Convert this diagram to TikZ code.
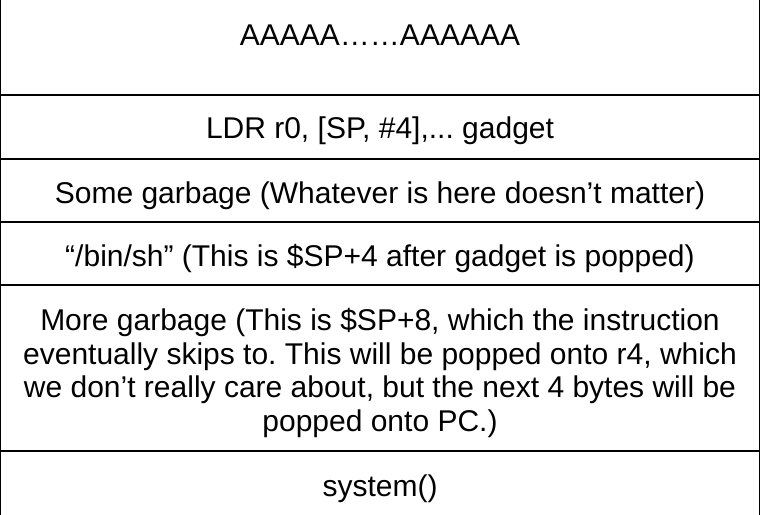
\documentclass[tikz,border=0pt]{standalone}
\usepackage{fontspec}
\setmainfont{Liberation Sans}
\frenchspacing
\begin{document}
\begin{tikzpicture}[x=1pt,y=-1pt,
  cell/.style={draw=black,line width=2pt,rectangle,minimum width=760pt,inner sep=0pt,outer sep=0pt,anchor=north west},
  txt/.style={align=center,inner sep=0pt,font=\fontsize{30}{33.5}\selectfont}]
\useasboundingbox (0,0) rectangle (760,514);
\clip (0,0) rectangle (760,514);
\node[cell,minimum height=120pt] (r1) at (0,-25) {};
\node[cell,minimum height=64pt] (r2) at (0,95) {};
\node[cell,minimum height=63pt] (r3) at (0,159) {};
\node[cell,minimum height=63pt] (r4) at (0,222) {};
\node[cell,minimum height=166pt] (r5) at (0,285) {};
\node[cell,minimum height=72pt] (r6) at (0,451) {};
\node[txt] (t1) at (r1.center) {AAAAA……AAAAAA};
\node[txt,yshift=-4pt] (t2) at (r2.center) {LDR r0, [SP, \#4],... gadget};
\node[txt,yshift=-5pt] (t3) at (r3.center) {Some garbage (Whatever is here doesn’t matter)};
\node[txt,yshift=-5pt] (t4) at (r4.center) {“/bin/sh” (This is \$SP+4 after gadget is popped)};
\node[txt,yshift=-5pt] (t5) at (r5.center) {More garbage (This is \$SP+8, which the instruction\\eventually skips to. This will be popped onto r4, which\\we don’t really care about, but the next 4 bytes will be\\popped onto PC.)};
\node[txt,yshift=-2pt] (t6) at (r6.center) {system()};
\end{tikzpicture}
\end{document}
